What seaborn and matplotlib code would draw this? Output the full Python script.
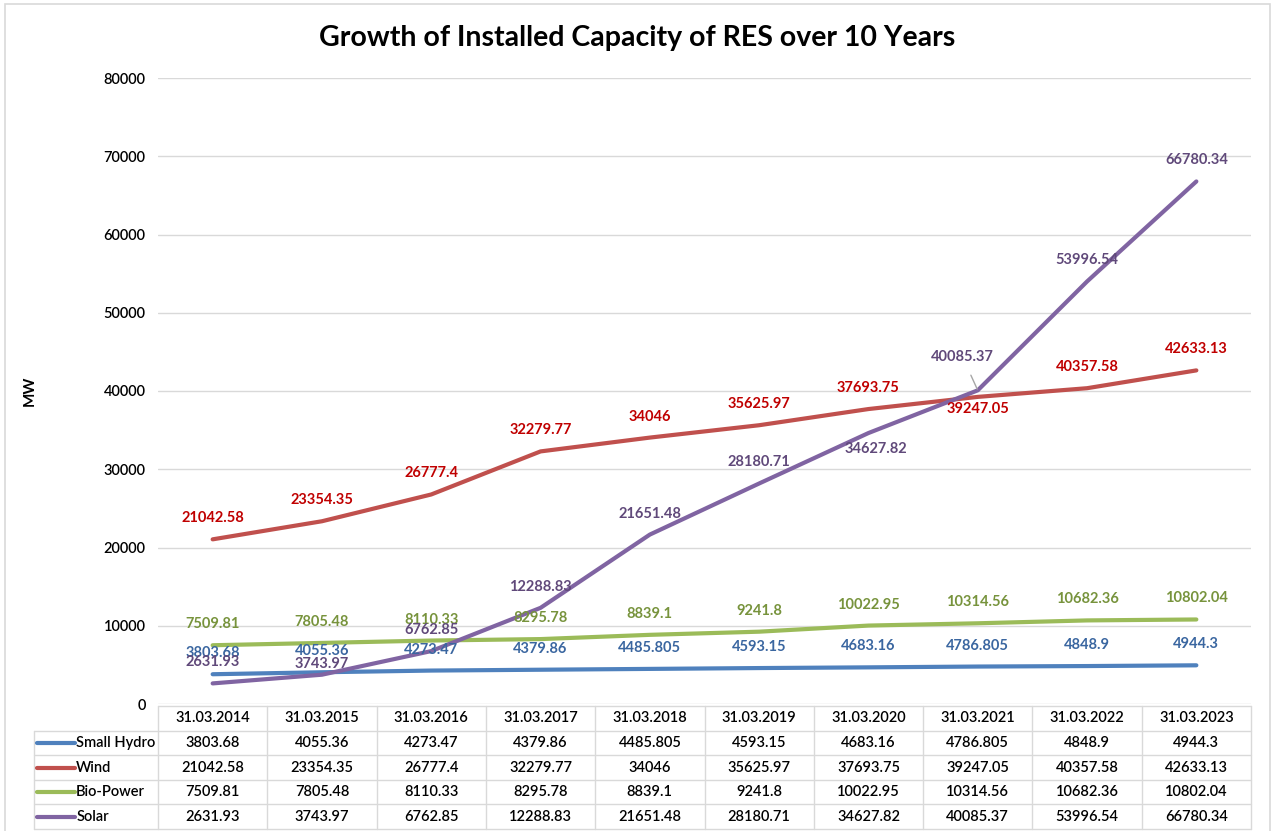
import matplotlib.pyplot as plt
import pandas as pd
import seaborn as sns
from matplotlib.lines import Line2D
from matplotlib.patches import Rectangle

dates = ['31.03.2014', '31.03.2015', '31.03.2016', '31.03.2017', '31.03.2018',
         '31.03.2019', '31.03.2020', '31.03.2021', '31.03.2022', '31.03.2023']
small_hydro = [3803.68, 4055.36, 4273.47, 4379.86, 4485.805, 4593.15, 4683.16, 4786.805, 4848.9, 4944.3]
wind = [21042.58, 23354.35, 26777.4, 32279.77, 34046, 35625.97, 37693.75, 39247.05, 40357.58, 42633.13]
bio_power = [7509.81, 7805.48, 8110.33, 8295.78, 8839.1, 9241.8, 10022.95, 10314.56, 10682.36, 10802.04]
solar = [2631.93, 3743.97, 6762.85, 12288.83, 21651.48, 28180.71, 34627.82, 40085.37, 53996.54, 66780.34]

series_names = ['Small Hydro', 'Wind', 'Bio-Power', 'Solar']
series_values = [small_hydro, wind, bio_power, solar]
line_colors = ['#4f81bd', '#c0504d', '#9bbb59', '#8064a2']
label_colors = ['#3a66a0', '#c00000', '#77933c', '#60497a']

# label offsets in pixels (default: centred 21px above the point)
label_offsets = {
    ('Solar', 1): (0, 11),
    ('Solar', 6): (7, -16),
    ('Solar', 7): (-15, 33),
    ('Wind', 7): (0, -12),
}

sns.set_theme(style='white')
plt.rcParams['font.family'] = ['Lato', 'DejaVu Sans']

rows = []
for name, vals in zip(series_names, series_values):
    for d, v in zip(dates, vals):
        rows.append({'date': d, 'MW': v, 'series': name})
df = pd.DataFrame(rows)

W, H = 1274, 831
fig = plt.figure(figsize=(W / 100, H / 100), dpi=100)
left_px, right_px, top_px, bottom_px = 158, 1251, 78, 704
ax = fig.add_axes([left_px / W, 1 - bottom_px / H, (right_px - left_px) / W, (bottom_px - top_px) / H])

sns.lineplot(data=df, x='date', y='MW', hue='series', hue_order=series_names,
             palette=line_colors, linewidth=3, sort=False, legend=False, ax=ax)

ax.set_xlim(-0.5, len(dates) - 0.5)
ax.set_ylim(0, 80000)
ax.set_yticks(range(0, 80001, 10000))
ax.set_yticklabels([str(v) for v in range(0, 80001, 10000)], fontsize=10.5,
                   color='black', fontweight='semibold')
ax.set_xticks([])
ax.set_xlabel('')
ax.set_ylabel('MW', fontsize=11, fontweight='bold', color='black')
ax.yaxis.set_label_coords((37 - left_px) / (right_px - left_px), 0.5)
ax.tick_params(axis='y', length=0, pad=9)
ax.grid(axis='y', color='#d9d9d9', linewidth=1)
for s in ax.spines.values():
    s.set_visible(False)

for name, vals, lc in zip(series_names, series_values, label_colors):
    for i, v in enumerate(vals):
        dx, dy = label_offsets.get((name, i), (0, 21))
        arrow = None
        if (name, i) == ('Solar', 7):
            arrow = dict(arrowstyle='-', color='#a6a6a6', lw=1, shrinkA=6, shrinkB=1)
        ax.annotate(str(v), (i, v), xytext=(dx, dy), textcoords='offset pixels',
                    ha='center', va='center', fontsize=10.5, fontweight='bold',
                    color=lc, arrowprops=arrow)

fig.text(0.5, 1 - 38 / H, 'Growth of Installed Capacity of RES over 10 Years',
         ha='center', va='center', fontsize=20.5, fontweight='bold', color='black')

# data table below the plot
tab_top, tab_bot = 706, 829
tax = fig.add_axes([left_px / W, 1 - tab_bot / H, (right_px - left_px) / W, (tab_bot - tab_top) / H])
tax.set_xlim(-0.5, len(dates) - 0.5)
tax.set_ylim(5, 0)
tax.axis('off')
unit = (right_px - left_px) / len(dates)
lab_left = -0.5 - (left_px - 34) / unit
grid_kw = dict(color='#d9d9d9', lw=1, clip_on=False)
tax.plot([-0.5, len(dates) - 0.5], [0, 0], **grid_kw)
for r in range(1, 6):
    tax.plot([lab_left, len(dates) - 0.5], [r, r], **grid_kw)
tax.plot([lab_left, lab_left], [1, 5], **grid_kw)
for c in range(len(dates) + 1):
    tax.plot([c - 0.5, c - 0.5], [0, 5], **grid_kw)
txt_kw = dict(va='center', fontsize=10.5, color='black', fontweight='semibold')
for c, d in enumerate(dates):
    tax.text(c, 0.5, d, ha='center', **txt_kw)
for r, (name, vals, col) in enumerate(zip(series_names, series_values, line_colors), start=1):
    x0 = -0.5 - (left_px - 37) / unit
    x1 = -0.5 - (left_px - 75) / unit
    tax.add_line(Line2D([x0, x1], [r + 0.5, r + 0.5], color=col, lw=3, clip_on=False))
    tax.text(x1 + 0.01, r + 0.5, name, ha='left', **txt_kw)
    for c, v in enumerate(vals):
        tax.text(c, r + 0.5, str(v), ha='center', **txt_kw)

fig.add_artist(Rectangle((5 / W, -0.01), (1270 - 5) / W, 1.01 - 4 / H, transform=fig.transFigure,
                         fill=False, ec='#d9d9d9', lw=1.2))

fig.savefig('out.png', dpi=100)
